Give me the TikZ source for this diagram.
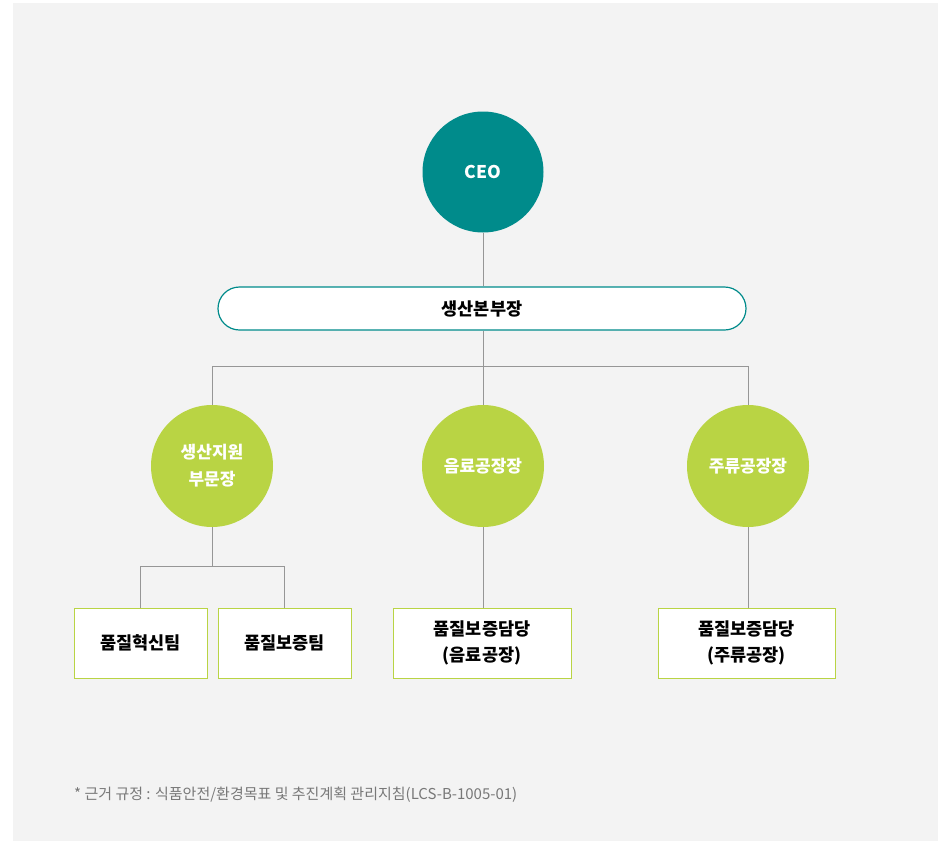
\documentclass[tikz,border=0pt]{standalone}
\usepackage{fontspec}
\setmainfont{Noto Sans CJK KR}
\usetikzlibrary{shapes.misc}
\definecolor{bg}{RGB}{243,243,243}
\definecolor{teal}{RGB}{0,139,139}
\definecolor{lime}{RGB}{185,212,68}
\definecolor{conn}{RGB}{150,150,150}
\definecolor{foot}{RGB}{120,120,120}
\tikzset{
  tealcirc/.style={circle,fill=teal,minimum size=121pt,inner sep=0pt,text=white,font=\fontsize{17.5}{21}\bfseries\selectfont},
  limecirc/.style={circle,fill=lime,minimum size=122pt,inner sep=0pt,text=white,align=center,font=\fontsize{17}{27}\bfseries\selectfont},
  pill/.style={rounded rectangle,draw=teal,line width=1.2pt,fill=white,minimum width=528pt,minimum height=43pt,inner sep=0pt,font=\fontsize{17.5}{21}\bfseries\selectfont},
  teambox/.style={rectangle,draw=lime,line width=1pt,fill=white,minimum height=70pt,inner sep=0pt,align=center,font=\fontsize{17.5}{26}\bfseries\selectfont},
  link/.style={draw=conn,line width=0.9pt}
}
\begin{document}
\begin{tikzpicture}[x=1pt,y=-1pt]
\useasboundingbox (0,0) rectangle (938,841);
\fill[bg] (13,3) rectangle (938,841);
% nodes
\node[tealcirc] (ceo) at (483,172) {CEO};
\node[pill] (hq) at (482,308.5) {생산본부장};
\node[limecirc] (sup) at (212,466) {생산지원\\부문장};
\node[limecirc] (bev) at (483,466) {음료공장장};
\node[limecirc] (liq) at (748,466) {주류공장장};
\node[teambox,minimum width=133pt] (inn) at (140.5,643) {품질혁신팀};
\node[teambox,minimum width=133pt] (qa) at (284.5,643) {품질보증팀};
\node[teambox,minimum width=178pt] (bqa) at (482,643) {품질보증담당\\(음료공장)};
\node[teambox,minimum width=177pt] (lqa) at (746.5,643) {품질보증담당\\(주류공장)};
\coordinate (j1) at (483,366);
\coordinate (j2) at (212,566);
% connectors
\path[link] (ceo.south) -- (ceo.south |- hq.north);
\path[link] (hq.south -| j1) -- (j1);
\path[link] (j1) -- (bev.north);
\path[link] (j1) -| (sup.north);
\path[link] (j1) -| (liq.north);
\path[link] (sup.south) -- (j2);
\path[link] (j2) -| (inn.north);
\path[link] (j2) -| (qa.north);
\path[link] (bev.south) -- (bev.south |- bqa.north);
\path[link] (liq.south) -- (liq.south |- lqa.north);
% footnote
\node[anchor=west,text=foot,font=\fontsize{15}{18}\selectfont,inner sep=0pt] (fn) at (74,795) {* 근거 규정 : 식품안전/환경목표 및 추진계획 관리지침(LCS-B-1005-01)};
\end{tikzpicture}
\end{document}
